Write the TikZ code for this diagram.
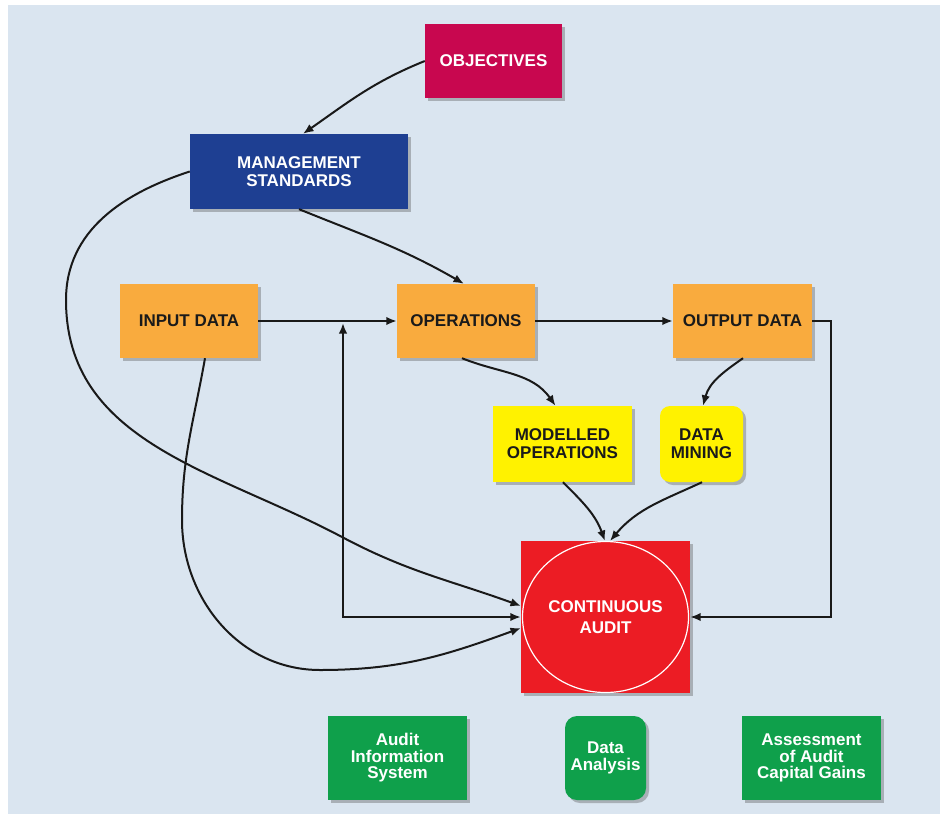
\documentclass[tikz,border=0pt]{standalone}
\usepackage{fontspec}
\setmainfont{Liberation Sans}
\usetikzlibrary{arrows.meta,shadows}
\definecolor{bgblue}{HTML}{DAE5F0}
\definecolor{crimson}{HTML}{C8074F}
\definecolor{navy}{HTML}{1E3F92}
\definecolor{orangebox}{HTML}{F9AB3E}
\definecolor{yellowbox}{HTML}{FFF200}
\definecolor{redbox}{HTML}{EC1C24}
\definecolor{greenbox}{HTML}{0FA04B}
\definecolor{ink}{HTML}{1A1A1A}
\begin{document}
\begin{tikzpicture}[x=1pt,y=1pt,
  >={Latex[length=10.5pt,width=8.5pt]},
  box/.style={rectangle, inner sep=0pt, align=center,
    font=\bfseries\fontsize{17}{18}\selectfont,
    drop shadow={shadow xshift=3pt,shadow yshift=-3pt,opacity=0.35,fill=black!70}},
  gbox/.style={box, fill=greenbox, text=white, minimum width=139pt, minimum height=84pt,
    font=\bfseries\fontsize{17}{16.5}\selectfont},
  obox/.style={box, fill=orangebox, text=ink, minimum width=138pt, minimum height=74pt},
  ybox/.style={box, fill=yellowbox, text=ink, minimum height=76pt},
  line/.style={line width=2pt, draw=black!90},
  conn/.style={line, ->}]
\useasboundingbox (0,0) rectangle (940,-814);
\fill[white] (0,0) rectangle (940,-814);
\fill[bgblue] (8,-5) rectangle (940,-814);

% nodes
\node[box, fill=crimson, text=white, minimum width=137pt, minimum height=74pt] (obj) at (493.5,-61) {OBJECTIVES};
\node[box, fill=navy, text=white, minimum width=218pt, minimum height=75pt] (mgmt) at (299,-171.5) {MANAGEMENT\\STANDARDS};
\node[obox] (input) at (189,-321) {INPUT DATA};
\node[obox] (ops) at (466,-321) {OPERATIONS};
\node[obox, minimum width=139pt] (output) at (742.5,-321) {OUTPUT DATA};
\node[ybox, minimum width=139pt] (model) at (562.5,-444) {MODELLED\\OPERATIONS};
\node[ybox, minimum width=83pt, rounded corners=10pt] (mining) at (701.5,-444) {DATA\\MINING};
\node[box, fill=redbox, text=white, minimum width=169pt, minimum height=152pt,
  font=\bfseries\fontsize{17}{20.5}\selectfont] (ca) at (605.5,-617) {CONTINUOUS\\AUDIT};
\draw[white, line width=1.2pt] (ca.center) ellipse [x radius=83pt, y radius=75.5pt];
\node[gbox] (ais) at (397.5,-758) {Audit\\Information\\System};
\node[gbox, minimum width=81pt, rounded corners=12pt] (da) at (605.5,-758) {Data\\Analysis};
\node[gbox] (aac) at (811.5,-758) {Assessment\\of Audit\\Capital Gains};

% helper coordinates
\coordinate (jn) at (343,-321);
\coordinate (vx) at (831,-321);
\coordinate (camgmt) at (521,-606);
\coordinate (cainput) at (521,-628);
\coordinate (cat1) at (605,-541);
\coordinate (cat2) at (610,-541);

% connectors
\draw[conn] (obj.west) to[out=202,in=35] ([xshift=4pt]mgmt.north);
\draw[conn] (mgmt.south) to[out=-22,in=150] ([xshift=-2pt]ops.north);
\draw[conn] (mgmt.west) to[out=198,in=90] (66,-300) to[out=-90,in=152] (342,-537) to[out=-28,in=160] (camgmt);
\draw[conn] (input.east) -- (ops.west);
\draw[conn] (ops.east) -- (output.west);
\draw[line, <->] ([yshift=-2pt]jn) |- (ca.west);
\draw[conn] ([xshift=16pt]input.south) to[out=-100,in=90] (182,-520) to[out=-90,in=180] (320,-670) to[out=0,in=200] (cainput);
\draw[conn] (output.east) -- (vx) |- (ca.east);
\draw[conn] ([xshift=-4pt]ops.south) to[out=-22,in=125] ([xshift=-7pt]model.north);
\draw[conn] ([xshift=0.5pt]output.south) to[out=215,in=75] ([xshift=1.5pt]mining.north);
\draw[conn] ([xshift=0.5pt]model.south) to[out=-45,in=110] (cat1);
\draw[conn] ([xshift=0.5pt]mining.south) to[out=205,in=50] (cat2);
\end{tikzpicture}
\end{document}
